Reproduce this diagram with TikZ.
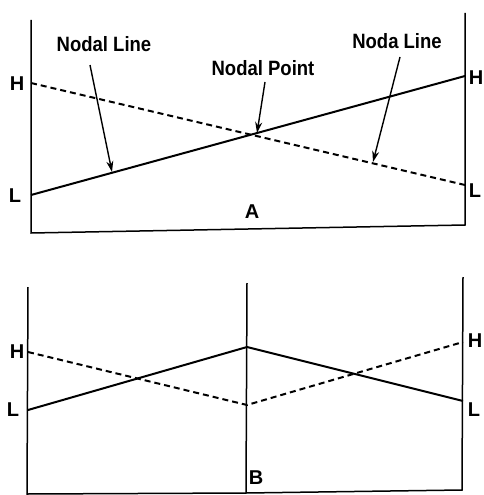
\documentclass[tikz,border=0pt]{standalone}
\usepackage{fontspec}
\setmainfont{Liberation Sans}
\usetikzlibrary{arrows.meta}
\begin{document}
\begin{tikzpicture}[x=1pt,y=-1pt,
  frame/.style={line width=1.5pt,black},
  solidline/.style={line width=2pt,black},
  dashline/.style={line width=2pt,black,dash pattern=on 6pt off 4pt},
  pointer/.style={line width=1.4pt,-{Stealth[length=11pt,width=7pt]}},
  lbl/.style={font=\fontsize{18.5}{20}\selectfont\bfseries,inner sep=0pt,yscale=1.12,transform shape},
  side/.style={font=\fontsize{20}{22}\selectfont\bfseries,inner sep=0pt}]
\useasboundingbox (0,0) rectangle (483,495);
% ---------- Panel A ----------
\coordinate (a-tl) at (31,20);
\coordinate (a-bl) at (31,233);
\coordinate (a-tr) at (465,13);
\coordinate (a-br) at (465,225);
\draw[frame] (a-tl) -- (a-bl) -- (a-br) -- (a-tr);
\coordinate (aH1) at (31,83);
\coordinate (aL1) at (31,195);
\coordinate (aH2) at (465,76);
\coordinate (aL2) at (465,185);
\draw[solidline] (aL1) -- (aH2);
\draw[dashline] (aH1) -- (aL2);
\node[side] (hA1) at (17,84) {H};
\node[side] (lA1) at (15,196) {L};
\node[side] (hA2) at (476,78) {H};
\node[side] (lA2) at (475,191) {L};
\node[side] (labA) at (252,212) {A};
\node[lbl] (nl1) at (104,44) {Nodal Line};
\node[lbl] (np) at (263,68) {Nodal Point};
\node[lbl] (nl2) at (397,41) {Noda Line};
\coordinate (t1) at (112,172);
\coordinate (t2) at (257,133);
\coordinate (t3) at (373,162);
\draw[pointer] (90,65) -- (t1);
\draw[pointer] (265,82) -- (t2);
\draw[pointer] (400,57) -- (t3);
% ---------- Panel B ----------
\coordinate (b-tl) at (28,287);
\coordinate (b-bl) at (27,495);
\coordinate (b-tm) at (247,283);
\coordinate (b-bm) at (246,493);
\coordinate (b-tr) at (463,277);
\coordinate (b-br) at (462,490);
\draw[frame] (b-tl) -- (b-bl);
\draw[frame] (b-tm) -- (b-bm);
\draw[frame] (b-tr) -- (b-br) -- (b-bm) -- (27,494);
\coordinate (bH1) at (28,352);
\coordinate (bL1) at (28,410);
\coordinate (bTop) at (247,347);
\coordinate (bLow) at (247,405);
\coordinate (bH2) at (463,342);
\coordinate (bL2) at (463,401);
\draw[solidline] (bL1) -- (bTop) -- (bL2);
\draw[dashline] (bH1) -- (bLow) -- (bH2);
\node[side] (hB1) at (17,352) {H};
\node[side] (lB1) at (13,410) {L};
\node[side] (hB2) at (475,341) {H};
\node[side] (lB2) at (474,410) {L};
\node[side] (labB) at (256,478) {B};
\end{tikzpicture}
\end{document}
